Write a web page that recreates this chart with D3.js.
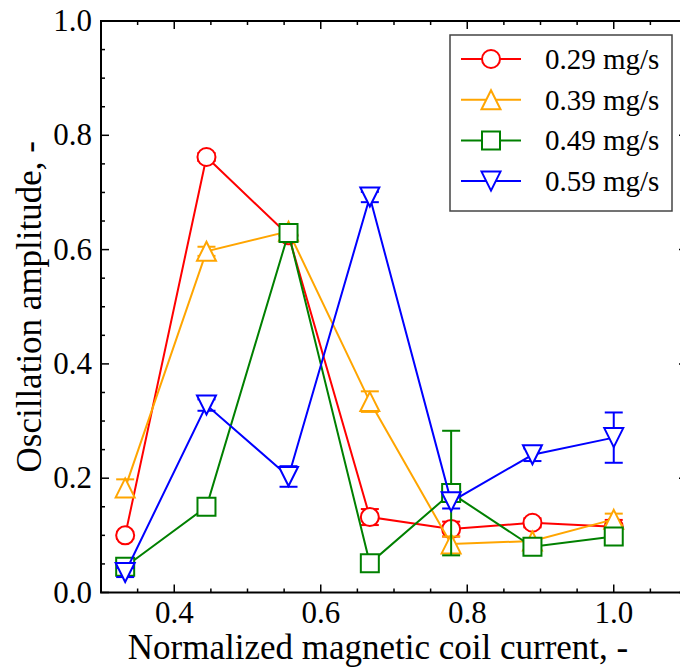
<!DOCTYPE html>
<html>
<head>
<meta charset="utf-8">
<script src="https://cdn.jsdelivr.net/npm/d3@7"></script>
<style>
  body { margin: 0; background: #fff; }
  text { font-family: "Liberation Serif", "Times New Roman", serif; fill: #000; }
</style>
</head>
<body>
<div id="chart"></div>
<script>
var width = 680;
var height = 669;

// data
var current = [0.333, 0.444, 0.556, 0.667, 0.778, 0.889, 1.0];
var seriesNames = ["0.29 mg/s", "0.39 mg/s", "0.49 mg/s", "0.59 mg/s"];
var amp029 = [0.100, 0.762, 0.625, 0.132, 0.111, 0.122, 0.115];
var err029 = [0.006, 0.007, 0.008, 0.014, 0.013, 0.008, 0.012];
var amp039 = [0.183, 0.597, 0.632, 0.334, 0.085, 0.090, 0.128];
var err039 = [0.015, 0.008, 0.010, 0.018, 0.013, 0.005, 0.010];
var amp049 = [0.045, 0.150, 0.629, 0.051, 0.174, 0.080, 0.098];
var err049 = [0.008, 0.007, 0.008, 0.005, 0.109, 0.005, 0.012];
var amp059 = [0.035, 0.328, 0.203, 0.692, 0.159, 0.241, 0.271];
var err059 = [0.008, 0.010, 0.018, 0.009, 0.012, 0.011, 0.044];
var colors = ["#ff0000", "#ffa500", "#008000", "#0000ff"];
var shapes = ["circle", "up", "square", "down"];

var xTicks = [0.4, 0.6, 0.8, 1.0];
var yTicks = [0.0, 0.2, 0.4, 0.6, 0.8, 1.0];

var series = [
    {name: seriesNames[0], y: amp029, e: err029, color: colors[0], shape: shapes[0]},
    {name: seriesNames[1], y: amp039, e: err039, color: colors[1], shape: shapes[1]},
    {name: seriesNames[2], y: amp049, e: err049, color: colors[2], shape: shapes[2]},
    {name: seriesNames[3], y: amp059, e: err059, color: colors[3], shape: shapes[3]}
];

var mLeft = 101, mTop = 21, mRight = 687, mBottom = 592.5;

var svg = d3.select("#chart").append("svg")
    .attr("width", width)
    .attr("height", height);

var x = d3.scaleLinear().domain([0.3, 1.1]).range([mLeft, mRight]);
var y = d3.scaleLinear().domain([0, 1]).range([mBottom, mTop]);

function markerPath(shape){
    var h = 9.5, s = 9;
    if (shape == "up") return "M0," + (-h) + "L" + h + "," + h + "L" + (-h) + "," + h + "Z";
    if (shape == "down") return "M0," + h + "L" + h + "," + (-h) + "L" + (-h) + "," + (-h) + "Z";
    return "M" + (-s) + "," + (-s) + "H" + s + "V" + s + "H" + (-s) + "Z";
}

function drawMarker(g, shape, color){
    if (shape == "circle") {
        g.append("circle").attr("r", 9)
            .attr("fill", "#fff").attr("stroke", color).attr("stroke-width", 2);
    } else {
        g.append("path").attr("d", markerPath(shape))
            .attr("fill", "#fff").attr("stroke", color).attr("stroke-width", 2);
    }
}

// ticks, all four sides, pointing inward
var axes = svg.append("g");
var xMinor = d3.range(0.3, 1.1001, 0.05);
var yMinor = d3.range(0, 1.0001, 0.05);

xMinor.forEach(function(v){
    var major = xTicks.some(t => Math.abs(t - v) < 1e-6);
    var len = major ? 8 : 4;
    axes.append("line").attr("x1", x(v)).attr("x2", x(v))
        .attr("y1", mBottom).attr("y2", mBottom - len);
    axes.append("line").attr("x1", x(v)).attr("x2", x(v))
        .attr("y1", mTop).attr("y2", mTop + len);
});
yMinor.forEach(function(v){
    var major = yTicks.some(t => Math.abs(t - v) < 1e-6);
    var len = major ? 8 : 4;
    axes.append("line").attr("x1", mLeft).attr("x2", mLeft + len)
        .attr("y1", y(v)).attr("y2", y(v));
    axes.append("line").attr("x1", mRight).attr("x2", mRight - len)
        .attr("y1", y(v)).attr("y2", y(v));
});
axes.selectAll("line").attr("stroke", "#000").attr("stroke-width", 1.5);

axes.append("rect")
    .attr("x", mLeft).attr("y", mTop)
    .attr("width", mRight - mLeft).attr("height", mBottom - mTop)
    .attr("fill", "none").attr("stroke", "#000").attr("stroke-width", 2);

svg.selectAll(".xlab").data(xTicks).enter().append("text")
    .attr("class", "xlab")
    .attr("x", d => x(d)).attr("y", 623)
    .attr("text-anchor", "middle")
    .style("font-size", "31px")
    .text(d => d.toFixed(1));

svg.selectAll(".ylab").data(yTicks).enter().append("text")
    .attr("class", "ylab")
    .attr("x", 92).attr("y", d => y(d) + 10)
    .attr("text-anchor", "end")
    .style("font-size", "31px")
    .text(d => d.toFixed(1));

svg.append("text")
    .attr("x", 378).attr("y", 659)
    .attr("text-anchor", "middle")
    .style("font-size", "35px")
    .text("Normalized magnetic coil current, -");

svg.append("text")
    .attr("transform", "translate(41," + ((mTop + mBottom) / 2) + ") rotate(-90)")
    .attr("text-anchor", "middle")
    .style("font-size", "35px")
    .text("Oscillation amplitude, -");

// series
var line = d3.line().x(d => x(d[0])).y(d => y(d[1]));

series.forEach(function(s){
    var pts = current.map((c, i) => [c, s.y[i], s.e[i]]);
    var g = svg.append("g");
    var eb = g.append("g").attr("stroke", s.color).attr("stroke-width", 2);
    pts.forEach(function(p){
        eb.append("line").attr("x1", x(p[0])).attr("x2", x(p[0]))
            .attr("y1", y(p[1] - p[2])).attr("y2", y(p[1] + p[2]));
        [p[1] - p[2], p[1] + p[2]].forEach(function(v){
            eb.append("line").attr("x1", x(p[0]) - 9).attr("x2", x(p[0]) + 9)
                .attr("y1", y(v)).attr("y2", y(v));
        });
    });
    g.append("path").datum(pts)
        .attr("d", line)
        .attr("fill", "none")
        .attr("stroke", s.color)
        .attr("stroke-width", 2);
    pts.forEach(function(p){
        var m = g.append("g").attr("transform", "translate(" + x(p[0]) + "," + y(p[1]) + ")");
        drawMarker(m, s.shape, s.color);
    });
});

// legend
var legend = svg.append("g");
legend.append("rect")
    .attr("x", 450).attr("y", 35).attr("width", 222).attr("height", 176)
    .attr("fill", "#fff").attr("stroke", "#444").attr("stroke-width", 1.5);

series.forEach(function(s, i){
    var ly = 59 + i * 40.7;
    legend.append("line").attr("x1", 461).attr("x2", 521)
        .attr("y1", ly).attr("y2", ly)
        .attr("stroke", s.color).attr("stroke-width", 2);
    var m = legend.append("g").attr("transform", "translate(491," + ly + ")");
    drawMarker(m, s.shape, s.color);
    legend.append("text")
        .attr("x", 545).attr("y", ly + 10)
        .style("font-size", "29px")
        .text(s.name);
});
</script>
</body>
</html>
